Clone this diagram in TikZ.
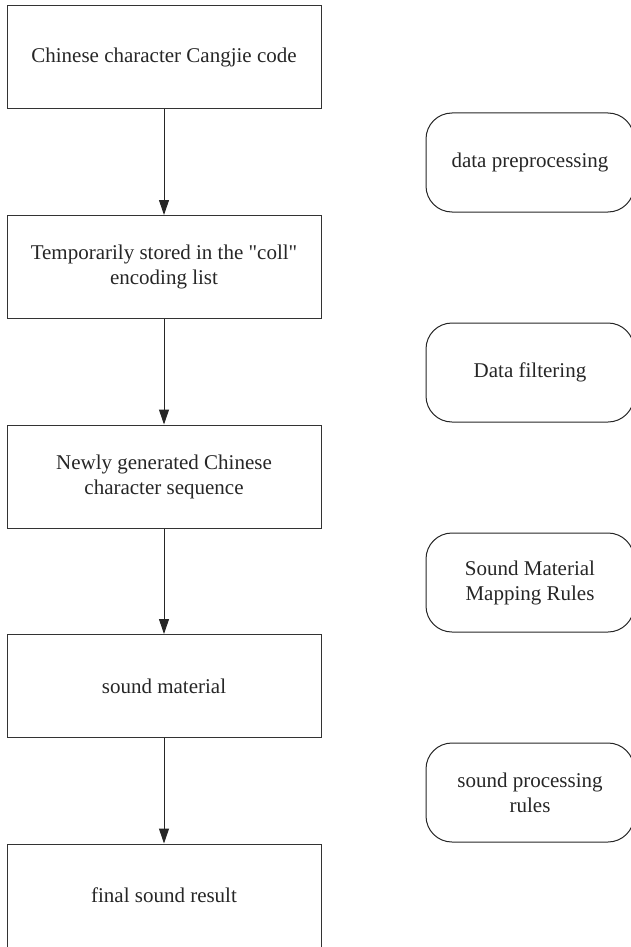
\documentclass[tikz,border=0pt]{standalone}
\usepackage{fontspec}
\setmainfont{Liberation Serif}
\usepackage{tikz}
\usetikzlibrary{positioning}
\usetikzlibrary{shapes.geometric, arrows.meta}

\begin{document}
\begin{tikzpicture}[
    x=1pt, y=1pt,
    stepbox/.style={
        rectangle,
        draw=black!80,
        line width=1pt,
        text centered,
        align=center,
        font=\fontsize{21}{25}\selectfont,
        text=black!85,
        minimum width=314pt,
        minimum height=103pt
    },
    rulebox/.style={
        rectangle,
        rounded corners=26pt,
        draw=black!85,
        line width=1pt,
        text centered,
        align=center,
        font=\fontsize{21}{25}\selectfont,
        text=black!85,
        minimum width=208pt,
        minimum height=99pt
    },
    flow/.style={
        -{Triangle[length=15pt, width=10pt]},
        line width=1pt,
        draw=black!85
    },
    node distance=105.5pt
]
\useasboundingbox (0,0) rectangle (630,-947);

\node[stepbox] (code) at (164,-57.5) {Chinese character Cangjie code};
\node[stepbox] (coll) [below=of code] {
    Temporarily stored in the \textquotedbl coll\textquotedbl\\
    encoding list
};
\node[stepbox] (newSeq) [below=of coll] {
    Newly generated Chinese\\
    character sequence
};
\node[stepbox] (material) [below=of newSeq] {sound material};
\node[stepbox] (result) [below=of material] {final sound result};

\node[rulebox] (preproc) at (530,-162.5) {data preprocessing};
\node[rulebox] (filtering) [below=110pt of preproc] {Data filtering};
\node[rulebox] (mapping) [below=110pt of filtering] {
    Sound Material\\
    Mapping Rules
};
\node[rulebox] (processing) [below=110pt of mapping] {
    sound processing\\
    rules
};

\draw[flow] (code) -- (coll);
\draw[flow] (coll) -- (newSeq);
\draw[flow] (newSeq) -- (material);
\draw[flow] (material) -- (result);

\end{tikzpicture}
\end{document}
